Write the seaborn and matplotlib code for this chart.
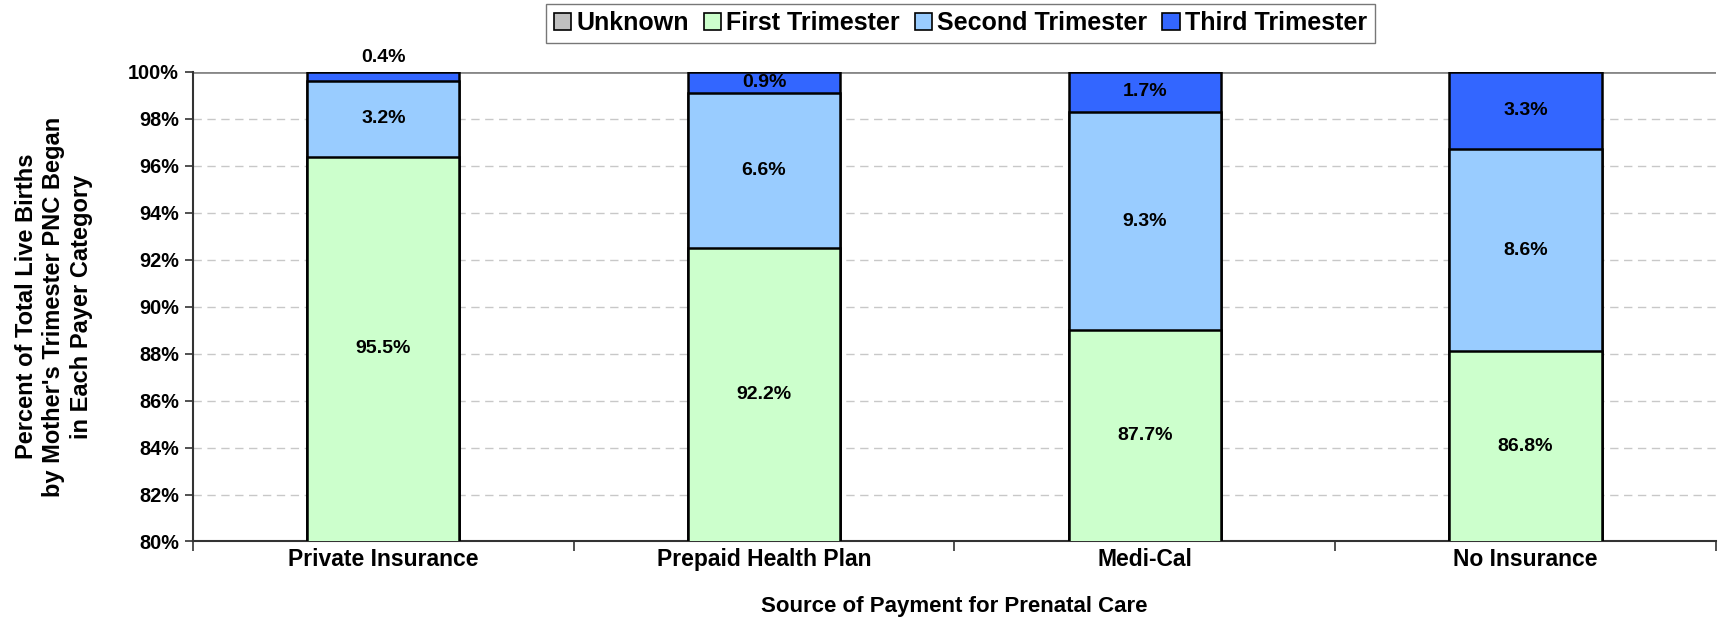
import numpy as np
import pandas as pd
import matplotlib
matplotlib.use("Agg")
import matplotlib.pyplot as plt
import seaborn as sns
from matplotlib.patches import Patch
from matplotlib.ticker import FixedLocator, FuncFormatter

# Data (percent of live births per payer category)
payers = ["Private Insurance", "Prepaid Health Plan", "Medi-Cal", "No Insurance"]
unknown = [0.9, 0.3, 1.3, 1.3]
first_tri = [95.5, 92.2, 87.7, 86.8]
second_tri = [3.2, 6.6, 9.3, 8.6]
third_tri = [0.4, 0.9, 1.7, 3.3]

series = ["Unknown", "First Trimester", "Second Trimester", "Third Trimester"]
colors = ["#C0C0C0", "#CCFFCC", "#99CCFF", "#3366FF"]

sns.set_theme(style="white")
plt.rcParams["font.family"] = ["Liberation Sans", "DejaVu Sans"]
plt.rcParams["font.weight"] = "bold"
plt.rcParams["text.color"] = "black"
plt.rcParams["axes.labelcolor"] = "black"
plt.rcParams["xtick.color"] = "black"
plt.rcParams["ytick.color"] = "black"

df = pd.DataFrame({"Payer": payers, "Unknown": unknown, "First Trimester": first_tri,
                   "Second Trimester": second_tri, "Third Trimester": third_tri})
cum = df[series].cumsum(axis=1)

fig = plt.figure(figsize=(17.18, 6.18), dpi=100)
ax = fig.add_axes([0.1123, 0.1238, 0.8865, 0.7597])

# draw cumulative layers from the top down so each layer covers the one below
for s, c in reversed(list(zip(series, colors))):
    sns.barplot(x=df["Payer"], y=cum[s], color=c, width=0.4, edgecolor="black",
                linewidth=1.8, ax=ax, saturation=1, zorder=3)

ax.set_ylim(80, 100)
ax.set_xlim(-0.5, len(payers) - 0.5)

# labels for visible segments
for i in range(len(payers)):
    bottom = cum["Unknown"].iloc[i]
    for s in series[1:]:
        top = cum[s].iloc[i]
        val = df[s].iloc[i]
        lo = max(bottom, 80)
        y = (lo + top) / 2
        if top - lo < 0.6:
            y = top + 0.6
        ax.text(i, y, f"{val:.1f}%", ha="center", va="center", fontsize=14,
                fontweight="bold", color="black", zorder=5, clip_on=False)
        bottom = top

# axes styling
ax.yaxis.set_major_locator(FixedLocator(np.arange(80, 101, 2)))
ax.yaxis.set_major_formatter(FuncFormatter(lambda v, p: f"{v:.0f}%"))
for yv in np.arange(82, 100, 2):
    ax.axhline(yv, color="#C8C8C8", linestyle=(0, (6, 4)), linewidth=1.0, zorder=1)
ax.axhline(100, color="#888888", linewidth=2.0, zorder=2)

for sp in ["top", "right"]:
    ax.spines[sp].set_visible(False)
for sp in ["left", "bottom"]:
    ax.spines[sp].set_color("#333333")
    ax.spines[sp].set_linewidth(1.5)

ax.tick_params(axis="y", which="major", left=True, length=6, width=1.2, color="#333333",
               labelsize=14.3, pad=4)
ax.set_xticks(range(len(payers)))
ax.set_xticklabels(payers, fontsize=16.5, fontweight="bold")
ax.set_xticks(np.arange(-0.5, len(payers), 1), minor=True)
ax.tick_params(axis="x", which="major", bottom=False, length=0, pad=5)
ax.tick_params(axis="x", which="minor", bottom=True, length=7, width=1.2, color="#333333")
for lbl in ax.get_yticklabels():
    lbl.set_fontweight("bold")

ax.set_xlabel("Source of Payment for Prenatal Care", fontsize=16, fontweight="bold")
ax.xaxis.set_label_coords(0.5, -0.138)
ax.xaxis.label.set_va("center")
ax.set_ylabel("Percent of Total Live Births\nby Mother's Trimester PNC Began\nin Each Payer Category",
              fontsize=17, fontweight="bold", linespacing=1.25)
ax.yaxis.set_label_coords(-0.0913, 0.5)
ax.yaxis.label.set_va("center")

handles = [Patch(facecolor=c, edgecolor="black", linewidth=1.2, label=s) for s, c in zip(series, colors)]
fig.legend(handles=handles, loc="center", bbox_to_anchor=(0.559, 0.962), ncol=4,
           frameon=True, fancybox=False, edgecolor="#555555",
           handlelength=0.7, handleheight=0.7, handletextpad=0.2, columnspacing=0.6,
           borderpad=0.3, prop={"weight": "bold", "size": 18})

fig.savefig("out.png", dpi=100)
